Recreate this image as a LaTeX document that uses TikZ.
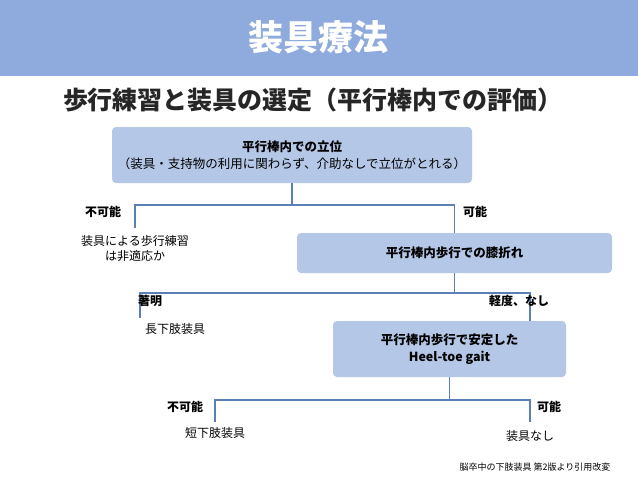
\documentclass[tikz,border=0pt]{standalone}
\usepackage{fontspec}
\setmainfont{Noto Sans CJK JP}
\begin{document}
\begin{tikzpicture}[x=1pt,y=-1pt,
  box/.style={draw=none,fill=boxfill,rounded corners=4pt,align=center,font=\fontsize{12.5}{17}\selectfont},
  lbl/.style={font=\bfseries\fontsize{12}{13}\selectfont},
  txt/.style={font=\fontsize{12}{15}\selectfont,align=center},
  ln/.style={draw=lncol,line width=1.2pt}]
\definecolor{hdr}{HTML}{8FAADC}
\definecolor{boxfill}{HTML}{B4C7E7}
\definecolor{lncol}{HTML}{5B80B8}
\useasboundingbox (0,0) rectangle (638,479);
\fill[hdr] (0,0) rectangle (638,76);
\node[text=white,font=\bfseries\fontsize{35}{38}\selectfont] (title) at (318,37) {装具療法};
\node[font=\bfseries\fontsize{25}{28}\selectfont,text=black!85] (sub) at (313,100) {歩行練習と装具の選定（平行棒内での評価）};
\node[box,minimum width=360,minimum height=56] (b1) at (292,155) {\textbf{平行棒内での立位}\\（装具・支持物の利用に関わらず、介助なしで立位がとれる）};
\node[box,minimum width=315,minimum height=40] (b2) at (454.5,253) {\textbf{平行棒内歩行での膝折れ}};
\node[box,minimum width=233,minimum height=56] (b3) at (449.5,349) {\textbf{平行棒内歩行で安定した}\\\textbf{Heel-toe gait}};
\coordinate (j1) at (292,205); \coordinate (l1) at (135,205); \coordinate (r1) at (454.5,205);
\coordinate (e1) at (135,228);
\draw[ln] (b1.south) -- (j1); \draw[ln] (e1) -- (l1) -- (r1) -- (b2.north);
\node[lbl] (n1) at (103,212) {不可能};
\node[lbl] (p1) at (475,212) {可能};
\node[txt] (t1) at (135,248) {装具による歩行練習\\は非適応か};
\coordinate (j2) at (454.5,293); \coordinate (l2) at (140,293); \coordinate (r2) at (530,293);
\coordinate (e2) at (140,318); \coordinate (f2) at (530,321);
\draw[ln] (b2.south) -- (j2); \draw[ln] (e2) -- (l2) -- (r2) -- (f2);
\node[lbl] (n2) at (150,301) {著明};
\node[lbl] (p2) at (519,301) {軽度、なし};
\node[txt] (t2) at (175,329) {長下肢装具};
\coordinate (j3) at (449.5,400); \coordinate (l3) at (215,400); \coordinate (r3) at (530,400);
\coordinate (e3) at (215,422); \coordinate (f3) at (530,422);
\draw[ln] (b3.south) -- (j3); \draw[ln] (e3) -- (l3) -- (r3) -- (f3);
\node[lbl] (n3) at (185,407) {不可能};
\node[lbl] (p3) at (549,407) {可能};
\node[txt] (t3) at (215,433) {短下肢装具};
\node[txt] (t4) at (530,436) {装具なし};
\node[font=\fontsize{9}{10}\selectfont] (fn) at (535,467) {脳卒中の下肢装具 第2版より引用改変};
\end{tikzpicture}
\end{document}
